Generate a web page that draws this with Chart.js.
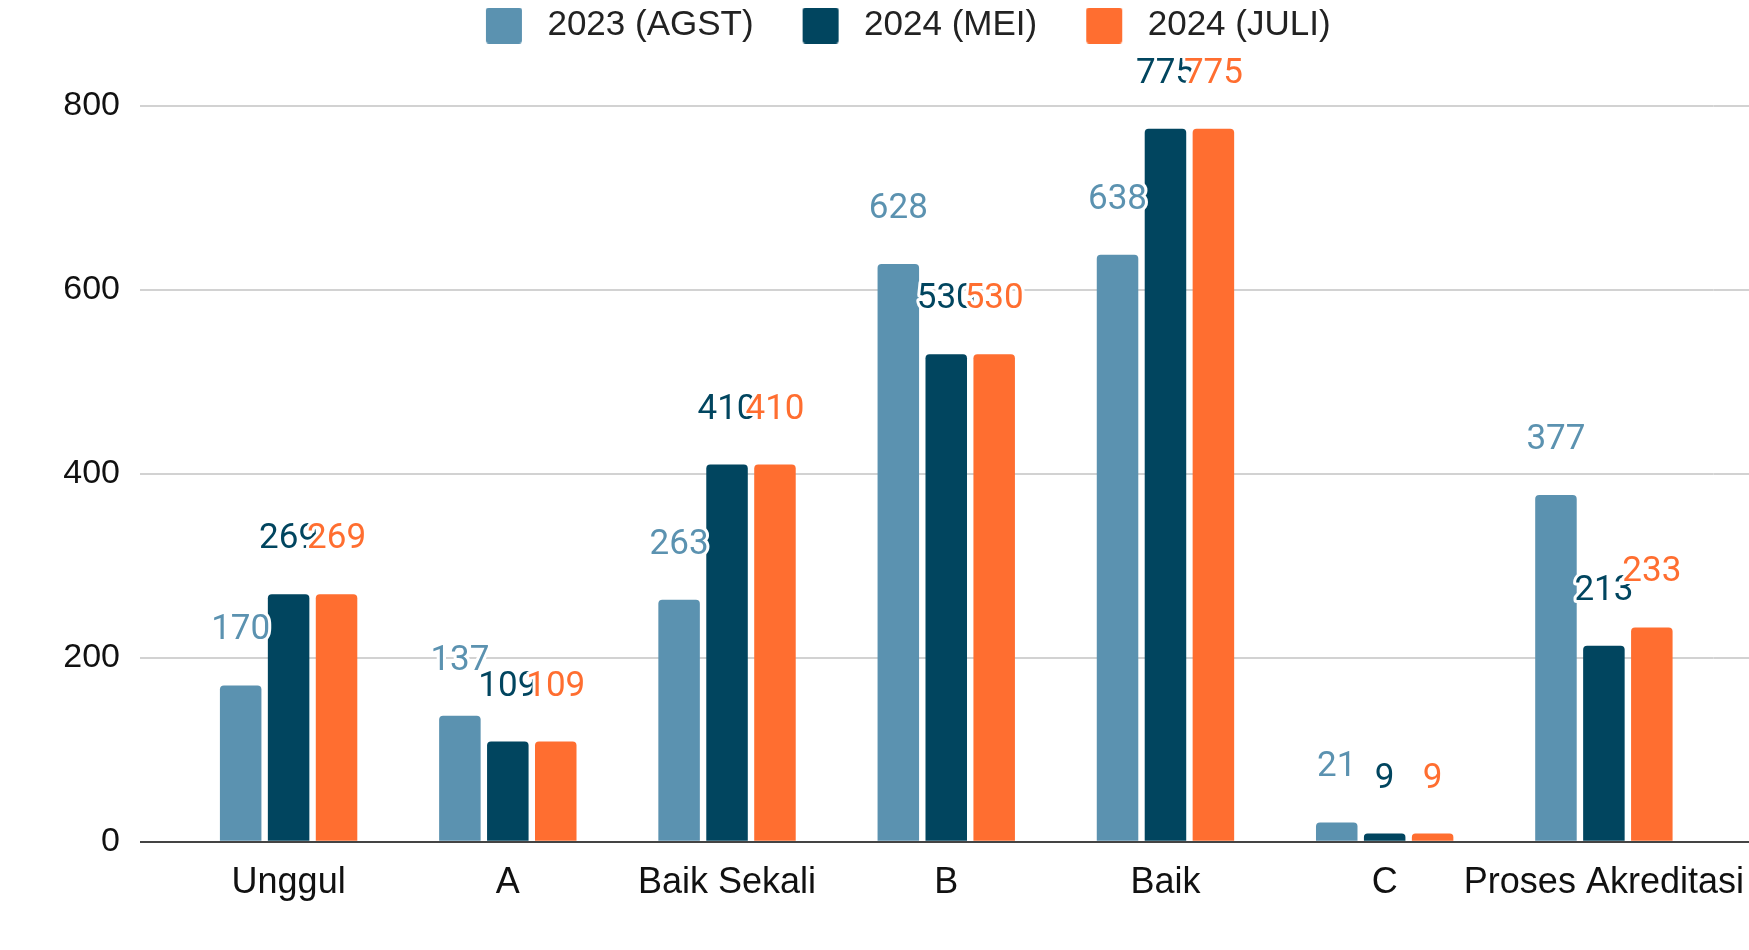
<!DOCTYPE html>
<html>
<head>
<meta charset="utf-8">
<script src="https://cdn.jsdelivr.net/npm/chart.js@4.4.1/dist/chart.umd.min.js"></script>
<style>
  html, body { margin: 0; padding: 0; background: #fff; overflow: hidden; }
  #wrap { width: 1749px; height: 950px; position: relative; }
</style>
</head>
<body>
<div id="wrap"><canvas id="chart"></canvas></div>
<script>
// categories and series
const categories = ["Unggul", "A", "Baik Sekali", "B", "Baik", "C", "Proses Akreditasi"];
const seriesNames = ["2023 (AGST)", "2024 (MEI)", "2024 (JULI)"];
const agst2023 = [170, 137, 263, 628, 638, 21, 377];
const mei2024 = [269, 109, 410, 530, 775, 9, 213];
const juli2024 = [269, 109, 410, 530, 775, 9, 233];
const seriesColors = ["#5b92b0", "#01455f", "#ff6e30"];
const yTicks = [0, 200, 400, 600, 800];

const gridColor = "#d2d2d2";
const baseColor = "#444";
const textFont = "'Liberation Sans', Arial, sans-serif";

// legend swatch: transparent room on the left so spacing matches the original
function swatch(color) {
  const c = document.createElement("canvas");
  c.width = 86;
  c.height = 36;
  const g = c.getContext("2d");
  g.fillStyle = color;
  g.beginPath();
  if (g.roundRect) g.roundRect(42, 0, 36, 36, 3);
  else g.rect(42, 0, 36, 36);
  g.fill();
  return c;
}

//grid lines run on past the plot to the page edge, base line on top of bars
const gridRunOn = {
  id: "gridRunOn",
  beforeDatasetsDraw(chart) {
    const { ctx, chartArea, scales } = chart;
    ctx.save();
    ctx.lineWidth = 2;
    ctx.strokeStyle = gridColor;
    scales.y.ticks.forEach((t) => {
      if (t.value === 0) return;
      const py = Math.round(scales.y.getPixelForValue(t.value));
      ctx.beginPath();
      ctx.moveTo(chartArea.right, py);
      ctx.lineTo(chart.width, py);
      ctx.stroke();
    });
    ctx.restore();
  },
  afterDatasetsDraw(chart) {
    const { ctx, chartArea, scales } = chart;
    const py = Math.round(scales.y.getPixelForValue(0));
    ctx.save();
    ctx.lineWidth = 2;
    ctx.strokeStyle = baseColor;
    ctx.beginPath();
    ctx.moveTo(chartArea.left - 39, py);
    ctx.lineTo(chart.width, py);
    ctx.stroke();
    ctx.restore();
  },
};

// value labels above each bar, white halo like the original
const valueLabels = {
  id: "valueLabels",
  afterDatasetsDraw(chart) {
    const ctx = chart.ctx;
    ctx.save();
    ctx.font = "35px Roboto, sans-serif";
    ctx.textAlign = "center";
    ctx.textBaseline = "alphabetic";
    ctx.lineJoin = "round";
    ctx.lineWidth = 6;
    ctx.strokeStyle = "#fff";
    chart.data.datasets.forEach((ds, i) => {
      const meta = chart.getDatasetMeta(i);
      meta.data.forEach((bar, j) => {
        const txt = String(ds.data[j]);
        const y = bar.y - 46;
        ctx.strokeText(txt, bar.x, y);
        ctx.fillStyle = ds.backgroundColor;
        ctx.fillText(txt, bar.x, y);
      });
    });
    ctx.restore();
  },
};

const allSeries = [agst2023, mei2024, juli2024];

const myChart = new Chart(document.getElementById("chart"), {
  type: "bar",
  data: {
    labels: categories,
    datasets: allSeries.map((vals, i) => ({
      label: seriesNames[i],
      data: vals,
      backgroundColor: seriesColors[i],
      borderRadius: 4,
      borderSkipped: "bottom",
      categoryPercentage: 0.656,
      barPercentage: 0.866,
    })),
  },
  options: {
    responsive: true,
    maintainAspectRatio: false,
    animation: false,
    layout: { padding: { top: 1, left: 61, right: 35.5, bottom: 25 } },
    plugins: {
      tooltip: { enabled: false },
      // empty spacer under the legend
      title: { display: true, text: "", weight: 500, padding: 0, font: { size: 44, lineHeight: 1.2 } },
      legend: {
        position: "top",
        labels: {
          usePointStyle: true,
          pointStyleWidth: 86,
          padding: 7,
          color: "#222",
          font: { family: textFont, size: 35 },
          generateLabels: (chart) =>
            chart.data.datasets.map((ds, i) => ({
              text: ds.label,
              fillStyle: ds.backgroundColor,
              strokeStyle: ds.backgroundColor,
              lineWidth: 0,
              pointStyle: swatch(ds.backgroundColor),
              datasetIndex: i,
              hidden: false,
              fontColor: "#222",
            })),
        },
      },
    },
    scales: {
      x: {
        grid: { display: false, drawTicks: false },
        border: { display: false },
        // long last label must not shrink the plot
        afterFit: (s) => { s.paddingLeft = 0; s.paddingRight = 0; },
        ticks: { color: "#111", padding: 20, maxRotation: 0, autoSkip: false, font: { family: textFont, size: 36 } },
      },
      y: {
        min: 0,
        max: 800,
        afterFit: (s) => { s.width = 118; },
        afterBuildTicks: (s) => { s.ticks = yTicks.map((v) => ({ value: v })); },
        border: { display: false },
        grid: { color: gridColor, lineWidth: 2, tickLength: 39 },
        ticks: { color: "#111", padding: 20, font: { family: textFont, size: 34 } },
      },
    },
  },
  plugins: [gridRunOn, valueLabels],
});
</script>
</body>
</html>
